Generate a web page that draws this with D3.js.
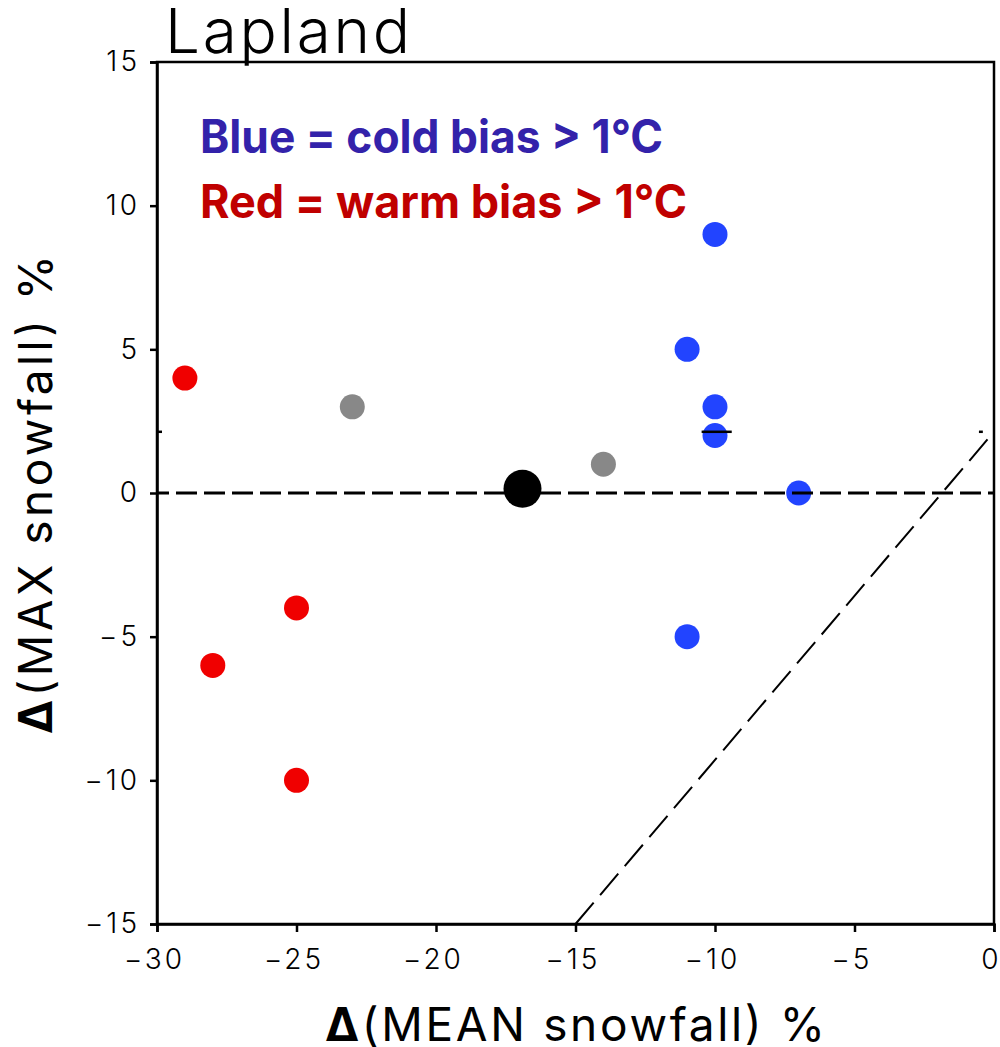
<!DOCTYPE html>
<html>
<head>
<meta charset="utf-8">
<title>Lapland</title>
<style>
body{margin:0;background:#fff;}
svg text{font-family:Inter,"DejaVu Sans",sans-serif;}
.axis path,.axis line{stroke:#000;stroke-width:2.5;}
</style>
</head>
<body>
<script src="https://cdn.jsdelivr.net/npm/d3@7"></script>
<script>
var w = 1000, h = 1047;
var padL = 157, padR = 994, padT = 62, padB = 924;

// models: x = change of mean snowfall, y = change of max snowfall
var blueX = [-10, -11, -10, -10, -7, -11];
var blueY = [9, 5, 3, 2, 0, -5];
var redX = [-29, -28, -25, -25];
var redY = [4, -6, -4, -10];
var grayX = [-23, -14];
var grayY = [3, 1];
var meanX = [-16.9];
var meanY = [0.15];

var xTicks = [-30, -25, -20, -15, -10, -5, 0];
var yTicks = [-15, -10, -5, 0, 5, 10, 15];

var refY = 2.13;            // short marks at this level
var diagX = [-15, 0];       // dashed diagonal
var diagY = [-15, 2.13];

var legendText = ["Blue = cold bias > 1°C", "Red = warm bias > 1°C"];
var legendColor = ["#3322aa", "#c00000"];

var xScale = d3.scaleLinear().domain([-30, 0]).range([padL, padR]);
var yScale = d3.scaleLinear().domain([-15, 15]).range([padB, padT]);

var svg = d3.select("body").append("svg").attr("width", w).attr("height", h);

// points (drawn under the lines)
function dots(xs, ys, col, r){
  svg.append("g").selectAll("circle").data(xs).enter().append("circle")
    .attr("cx", function(d){ return xScale(d); })
    .attr("cy", function(d, i){ return yScale(ys[i]); })
    .attr("r", r)
    .attr("fill", col);
}
dots(redX, redY, "#f00000", 12.5);
dots(grayX, grayY, "#888888", 12.5);
dots(blueX, blueY, "#2244ff", 12.5);

// zero line
svg.append("line")
  .attr("x1", xScale(-30)).attr("x2", xScale(0))
  .attr("y1", yScale(0)).attr("y2", yScale(0))
  .attr("stroke", "#000").attr("stroke-width", 3)
  .attr("stroke-dasharray", "21,7").attr("stroke-dashoffset", 9);

// diagonal
svg.append("line")
  .attr("x1", xScale(diagX[0])).attr("y1", yScale(diagY[0]))
  .attr("x2", xScale(diagX[1])).attr("y2", yScale(diagY[1]))
  .attr("stroke", "#000").attr("stroke-width", 2)
  .attr("stroke-dasharray", "28,10");

// small marks
var marks = [[-30, -29.82], [-10.48, -9.4], [-0.54, -0.4]];
svg.append("g").selectAll("line").data(marks).enter().append("line")
  .attr("x1", function(d){ return xScale(d[0]); })
  .attr("x2", function(d){ return xScale(d[1]); })
  .attr("y1", yScale(refY)).attr("y2", yScale(refY))
  .attr("stroke", "#000").attr("stroke-width", 2.5);

dots(meanX, meanY, "#000", 19);

// frame
svg.append("rect")
  .attr("x", padL).attr("y", padT)
  .attr("width", padR - padL).attr("height", padB - padT)
  .attr("fill", "none").attr("stroke", "#000").attr("stroke-width", 2.5);

var xAxis = d3.axisBottom(xScale).tickValues(xTicks).tickSizeOuter(0).tickSize(8);
var gx = svg.append("g").attr("class", "axis")
  .attr("transform", "translate(0," + padB + ")").call(xAxis);
gx.selectAll("text").attr("y", 45).attr("dy", 0).attr("dx", -3);

var yAxis = d3.axisLeft(yScale).tickValues(yTicks).tickSizeOuter(0).tickSize(7);
var gy = svg.append("g").attr("class", "axis")
  .attr("transform", "translate(" + padL + ",0)").call(yAxis);
gy.selectAll("text").attr("x", -17);

svg.selectAll(".axis text")
  .attr("font-family", "Inter, sans-serif")
  .attr("font-size", 28).attr("font-weight", 300)
  .attr("letter-spacing", 3).attr("fill", "#000");

// title
svg.append("text").text("Lapland")
  .attr("x", 165).attr("y", 53)
  .attr("font-size", 62).attr("font-weight", 300)
  .attr("textLength", 245).attr("lengthAdjust", "spacing");

// legend
svg.append("g").selectAll("text").data(legendText).enter().append("text")
  .text(function(d){ return d; })
  .attr("x", 200)
  .attr("y", function(d, i){ return 153 + i * 64.5; })
  .attr("font-family", "'Open Sans', sans-serif")
  .attr("font-weight", 700).attr("font-size", 46)
  .attr("fill", function(d, i){ return legendColor[i]; })
  .attr("textLength", function(d, i){ return i == 0 ? 463 : 487; })
  .attr("lengthAdjust", "spacingAndGlyphs");

// axis titles
var xl = svg.append("text")
  .attr("x", 325).attr("y", 1041)
  .attr("font-size", 46).attr("font-weight", 400)
  .attr("textLength", 500).attr("lengthAdjust", "spacing");
xl.append("tspan").attr("font-weight", 700).text("Δ");
xl.append("tspan").text("(MEAN snowfall) %");

var yl = svg.append("text")
  .attr("transform", "translate(52,734) rotate(-90)")
  .attr("font-size", 46).attr("font-weight", 400)
  .attr("textLength", 479).attr("lengthAdjust", "spacing");
yl.append("tspan").attr("font-weight", 700).text("Δ");
yl.append("tspan").text("(MAX snowfall) %");
</script>
</body>
</html>
